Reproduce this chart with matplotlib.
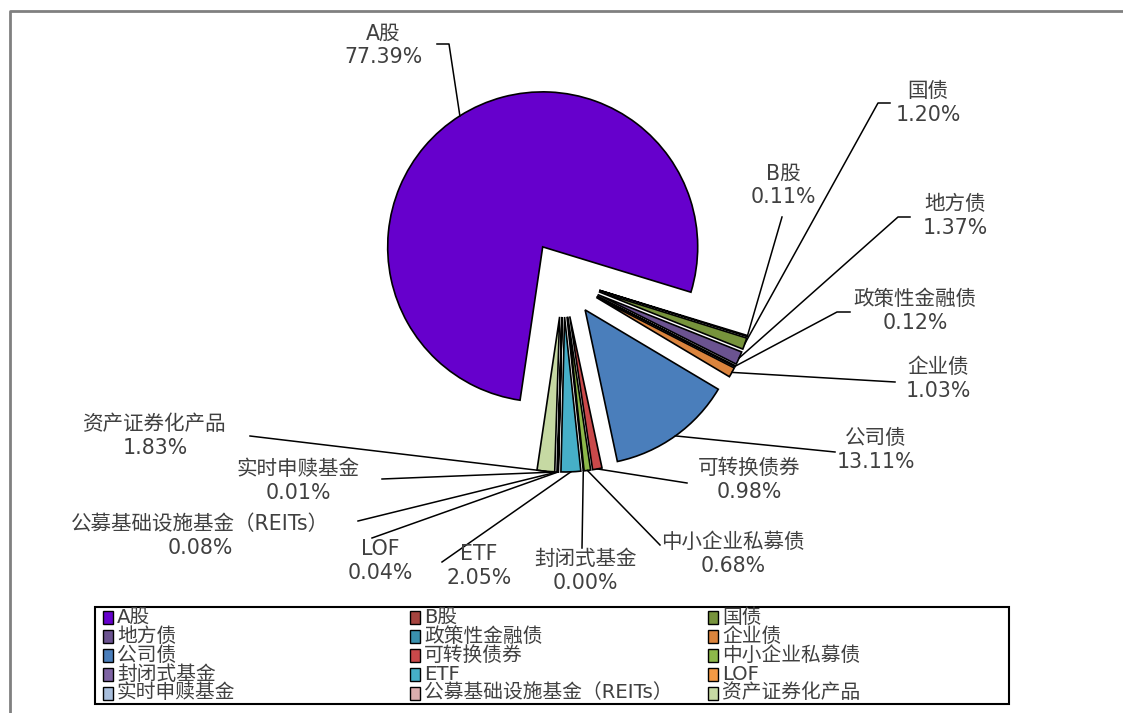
import matplotlib.pyplot as plt
import matplotlib.patches as mplpatches
import numpy as np

plt.rcParams['font.family'] = ['DejaVu Sans', 'Noto Sans CJK SC']

# data
names = ['A股', 'B股', '国债', '地方债', '政策性金融债', '企业债', '公司债',
         '可转换债券', '中小企业私募债', '封闭式基金', 'ETF', 'LOF',
         '实时申赎基金', '公募基础设施基金（REITs）', '资产证券化产品']
shares = [77.39, 0.11, 1.20, 1.37, 0.12, 1.03, 13.11,
          0.98, 0.68, 0.00, 2.05, 0.04, 0.01, 0.08, 1.83]
colors = ['#6600CC', '#A5443F', '#77933C', '#6B5390', '#3A91AE', '#DB843D', '#4A7EBB',
          '#C9494A', '#8DB84A', '#7E63A3', '#46AFC8', '#F49A45',
          '#A8BEDC', '#DCAEAE', '#C6D9A3']

# layout (pixel coords, y measured from top)
figW, figH = 1123, 713
pieCenter = (563, 279)
pieRadius = 155
explodeDist = 38

labelPos = [(383, 45), (783, 185), (928, 103), (955, 216), (915, 311), (938, 379),
            (876, 450), (749, 480), (733, 554), (585, 571), (479, 566), (380, 561),
            (298, 481), (200, 536), (155, 436)]
leaderPts = [[(437, 44), (449, 44)], [(782, 217)], [(890, 103), (878, 103)],
             [(910, 217), (898, 217)], [(850, 312), (837, 312)], [(895, 382)],
             [(835, 452)], [(687, 483)], [(660, 545)], [(582, 548)], [(442, 562)],
             [(372, 538)], [(382, 479)], [(358, 521)], [(250, 436)]]

textColor = '#404040'

fig = plt.figure(figsize=(figW / 100, figH / 100), dpi=100)
ax = fig.add_axes([0, 0, 1, 1])

wedges, _ = ax.pie(shares, colors=colors, radius=pieRadius,
                   center=(pieCenter[0], figH - pieCenter[1]),
                   explode=[explodeDist] * len(shares),
                   startangle=261.6, counterclock=False,
                   wedgeprops=dict(edgecolor='black', linewidth=1.2))

ax.set_xlim(0, figW)
ax.set_ylim(0, figH)
ax.set_aspect('auto')
ax.axis('off')

# labels + leader lines
for i, w in enumerate(wedges):
    mid = np.radians((w.theta1 + w.theta2) / 2)
    arcX = w.center[0] + w.r * np.cos(mid)
    arcY = w.center[1] + w.r * np.sin(mid)
    xs = [p[0] for p in leaderPts[i]] + [arcX]
    ys = [figH - p[1] for p in leaderPts[i]] + [arcY]
    ax.plot(xs, ys, color='black', linewidth=1.1, zorder=3)
    tx, ty = labelPos[i]
    ax.text(tx, figH - ty, f'{names[i]}\n{shares[i]:.2f}%', ha='center', va='center',
            fontsize=14.8, color=textColor, linespacing=1.2)

# legend, 3 columns filled row by row
legX = [103, 410, 708]
legY = [617, 636, 655, 674, 693]
ax.add_patch(mplpatches.Rectangle((95, figH - 704), 914, 97, facecolor='white',
                                  edgecolor='black', linewidth=1.5, zorder=4))
for i, name in enumerate(names):
    col = i % 3
    row = i // 3
    mx, my = legX[col], figH - legY[row]
    ax.add_patch(mplpatches.Rectangle((mx, my - 6.5), 10, 13, facecolor=colors[i],
                                      edgecolor='black', linewidth=1, zorder=5))
    ax.text(mx + 14, my, name, ha='left', va='center', fontsize=14.2,
            color=textColor, zorder=5)

# outer chart frame
ax.plot([10, 10, figW], [0, figH - 11, figH - 11], color='#808080', linewidth=2)

plt.savefig('out.png', dpi=100)
